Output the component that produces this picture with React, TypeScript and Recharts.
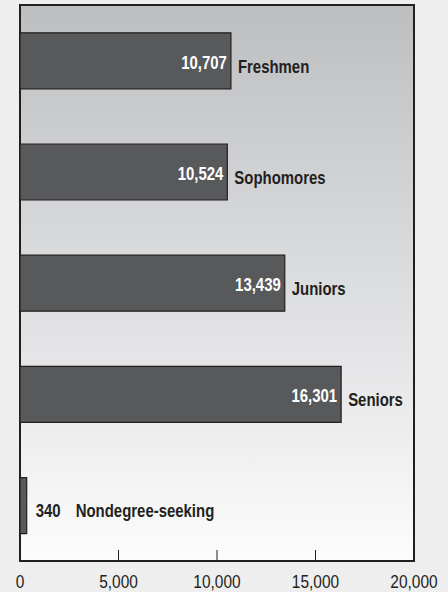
import { BarChart, Bar, XAxis, YAxis, CartesianGrid, LabelList, ReferenceArea } from 'recharts';

const categories = ['Freshmen', 'Sophomores', 'Juniors', 'Seniors', 'Nondegree-seeking'];
const students = [10707, 10524, 13439, 16301, 340];
const xTicks = [0, 5000, 10000, 15000, 20000];

const data = categories.map((name, i) => ({ name, value: students[i] }));

const FONT = "'Liberation Sans', Arial, sans-serif";
const fmt = (v: number) => v.toLocaleString('en-US');

// narrow text: squeeze a normal sans horizontally
const Narrow = ({ x, y, sx = 0.83, anchor = 'start', children, ...rest }: any) => (
  <text
    transform={`translate(${x},${y}) scale(${sx},1)`}
    textAnchor={anchor}
    fontFamily={FONT}
    {...rest}
  >
    {children}
  </text>
);

const AxisTick = (props: any) => {
  const { x, y, payload } = props;
  const v = payload.value;
  const inner = v > 0 && v < 20000;
  return (
    <g>
      {inner && <line x1={x} x2={x} y1={y} y2={y - 11} stroke="#231f20" strokeWidth={1} />}
      <Narrow x={x} y={y + 27} sx={0.86} anchor="middle" fontSize={18} fill="#231f20">
        {fmt(v)}
      </Narrow>
    </g>
  );
};

const BarLabel = (props: any) => {
  const { x, y, width, height, index } = props;
  const value = students[index];
  const name = categories[index];
  const cy = y + height / 2;
  const end = x + width;
  if (width > 60) {
    return (
      <g fontWeight="bold" fontSize={18}>
        <Narrow x={end - 4} y={cy + 8} anchor="end" fill="#ffffff">{fmt(value)}</Narrow>
        <Narrow x={end + 7} y={cy + 12} fill="#231f20">{name}</Narrow>
      </g>
    );
  }
  return (
    <g fontWeight="bold" fontSize={18}>
      <Narrow x={end + 9} y={cy + 11} fill="#231f20">{fmt(value)}</Narrow>
      <Narrow x={end + 49} y={cy + 11} fill="#231f20">{name}</Narrow>
    </g>
  );
};

const App = () => {
  return (
    <div style={{ position: 'absolute', left: 0, top: 0, width: 448, height: 592, background: '#eeeeee' }}>
      <BarChart
        width={448}
        height={592}
        data={data}
        layout="vertical"
        margin={{ top: 5, right: 34, bottom: 1, left: 20 }}
        barCategoryGap="25%"
      >
        <defs>
          <linearGradient id="plotBg" x1="0" y1="0" x2="0" y2="1">
            <stop offset="0%" stopColor="#bdbec0" />
            <stop offset="50%" stopColor="#dcdddf" />
            <stop offset="100%" stopColor="#fcfcfc" />
          </linearGradient>
        </defs>
        <CartesianGrid horizontal={false} vertical={false} fill="url(#plotBg)" />
        <XAxis
          type="number"
          domain={[0, 20000]}
          ticks={xTicks}
          interval={0}
          height={30}
          axisLine={false}
          tickLine={false}
          tickSize={0}
          tickMargin={0}
          tick={<AxisTick />}
        />
        <YAxis type="category" dataKey="name" hide />
        <Bar dataKey="value" fill="#58595b" stroke="#231f20" strokeWidth={1.2} isAnimationActive={false}>
          <LabelList dataKey="value" content={<BarLabel />} />
        </Bar>
        <ReferenceArea x1={0} x2={20000} fill="none" stroke="#231f20" strokeWidth={2} ifOverflow="visible" />
      </BarChart>
    </div>
  );
};

export default App;
